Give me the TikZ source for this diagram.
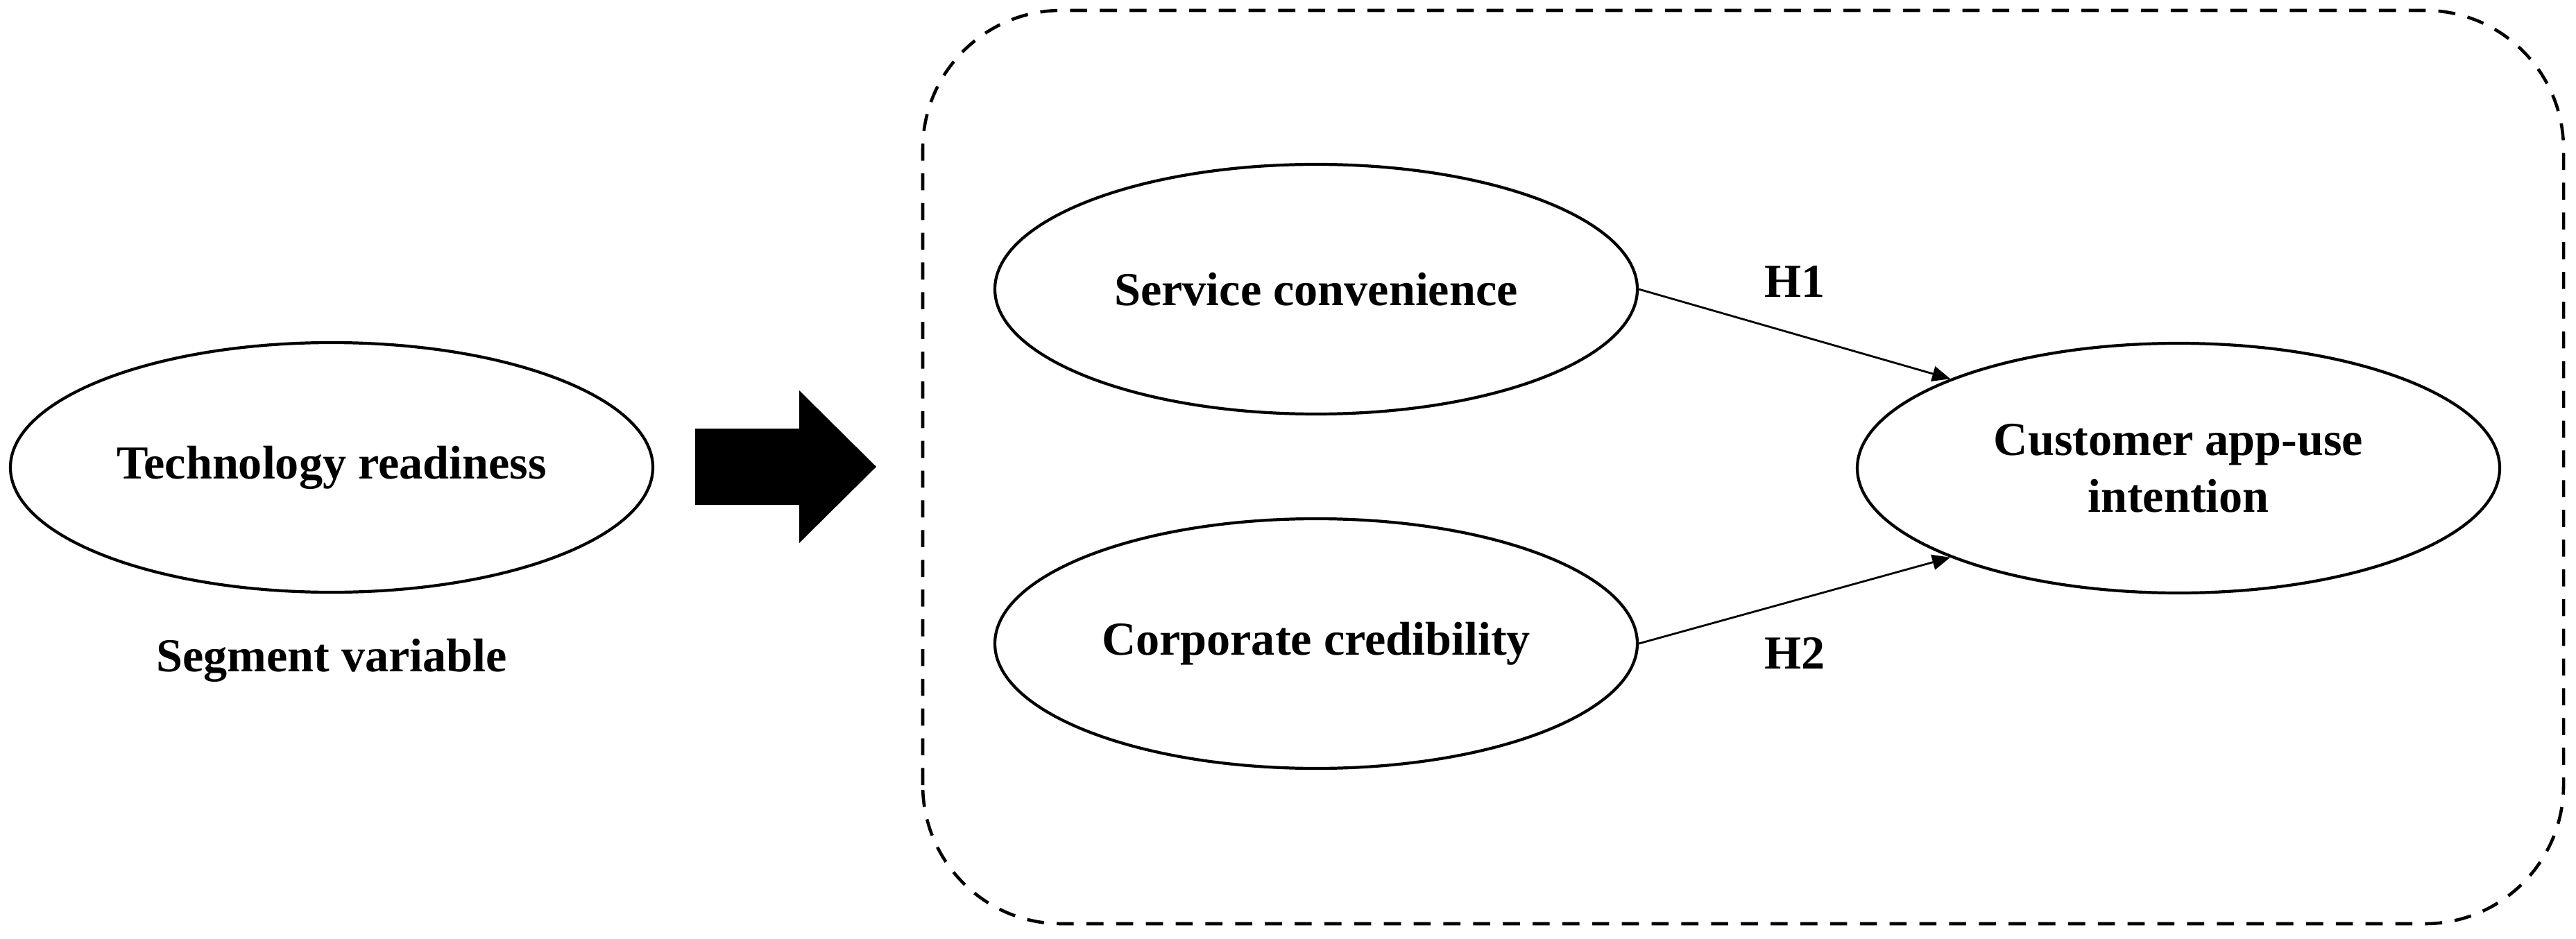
\documentclass[tikz,border=0pt]{standalone}
\usepackage{fontspec}
\setmainfont{Liberation Serif}
\usetikzlibrary{arrows.meta,positioning,shapes.geometric}
\tikzset{
  latent/.style={draw,ellipse,line width=1.2pt,minimum width=9.26cm,minimum height=3.6cm,
                 inner sep=0pt,align=center,font=\fontsize{19.4}{23.3}\selectfont\bfseries},
  arr/.style={-{Triangle[length=2.6mm,width=2.2mm]},line width=0.8pt},
  lbl/.style={font=\fontsize{19.4}{23.3}\selectfont\bfseries},
  frame/.style={line width=1.3pt,dash pattern=on 7pt off 5.2pt,rounded corners=2cm},
}

\begin{document}
\begin{tikzpicture}[x=1cm,y=1cm]
\useasboundingbox (0,0) rectangle (37.13,13.53);
\draw[frame] (13.30,0.21) rectangle (36.95,13.38);
\node[latent] (tech) at (4.78,6.79) {Technology readiness};
\node[lbl] (seg) at (4.78,4.01) {Segment variable};
\node[latent] (serv) at (18.97,9.36) {Service convenience};
\node[latent] (corp) at (18.97,4.25) {Corporate credibility};
\node[latent] (cust) at (31.40,6.78) {Customer app-use\\intention};
% block arrow
\fill (10.02,7.35) -- (11.52,7.35) -- (11.52,7.90) -- (12.63,6.80) -- (11.52,5.70) -- (11.52,6.25) -- (10.02,6.25) -- cycle;
\draw[arr] (serv.east) -- node[lbl,above=4mm] {H1} (cust.north west);
\draw[arr] (corp.east) -- node[lbl,below=4mm] {H2} (cust.south west);
\end{tikzpicture}
\end{document}
